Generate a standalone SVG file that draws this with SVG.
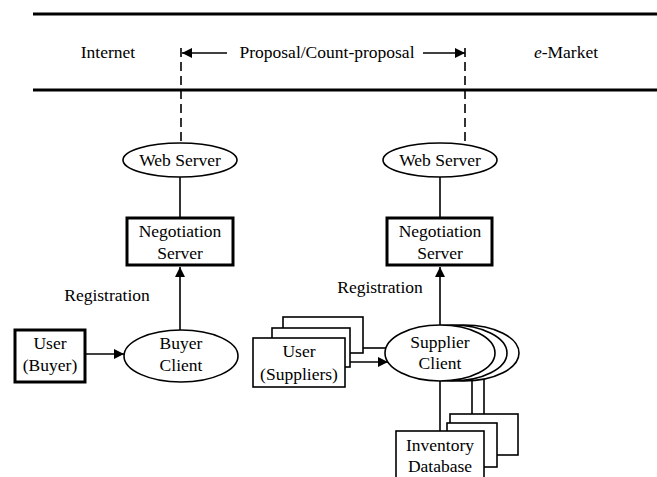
<svg xmlns="http://www.w3.org/2000/svg" width="657" height="477" viewBox="0 0 657 477">
<defs>
<marker id="ah" viewBox="0 0 10 10" refX="10" refY="5" markerWidth="10" markerHeight="10" markerUnits="userSpaceOnUse" orient="auto">
<path d="M0,0 L10,5 L0,10 z" fill="#000"/>
</marker>
<style>
text{font-family:"Liberation Serif","Times New Roman",serif;font-size:17.5px;fill:#000;text-anchor:middle}
.ln{stroke:#000;stroke-width:1.6;fill:none}
.dash{stroke:#000;stroke-width:1.6;fill:none;stroke-dasharray:9,5}
.thick{stroke:#000;stroke-width:3;fill:#fff}
.box{stroke:#000;stroke-width:1.6;fill:#fff}
</style>
</defs>
<rect width="657" height="477" fill="#fff"/>
<g id="header">
<line x1="33" y1="14" x2="657" y2="14" stroke="#000" stroke-width="3"/>
<line x1="33" y1="90" x2="657" y2="90" stroke="#000" stroke-width="3"/>
<text x="108" y="58">Internet</text>
<text x="327" y="58">Proposal/Count-proposal</text>
<text x="566" y="58"><tspan font-style="italic">e</tspan>-Market</text>
</g>
<g id="connectors">
<line class="ln" x1="227" y1="53" x2="182" y2="53" marker-end="url(#ah)"/>
<line class="ln" x1="423" y1="53" x2="465" y2="53" marker-end="url(#ah)"/>
<line class="dash" x1="181" y1="48" x2="181" y2="143"/>
<line class="dash" x1="465" y1="48" x2="465" y2="146"/>
<line class="ln" x1="180" y1="177" x2="180" y2="218"/>
<line class="ln" x1="440" y1="177" x2="440" y2="218"/>
<line class="ln" x1="180" y1="330" x2="180" y2="267" marker-end="url(#ah)"/>
<line class="ln" x1="440" y1="325" x2="440" y2="267" marker-end="url(#ah)"/>
<line class="ln" x1="85" y1="354" x2="124" y2="354" marker-end="url(#ah)"/>
<line class="ln" x1="363" y1="348" x2="386" y2="348"/>
<line class="ln" x1="345" y1="362" x2="388" y2="362" marker-end="url(#ah)"/>
<line class="ln" x1="440" y1="381" x2="440" y2="431"/>
<line class="ln" x1="472" y1="380" x2="472" y2="423"/>
<line class="ln" x1="484" y1="379" x2="484" y2="414"/>
<text x="107" y="301">Registration</text>
<text x="380" y="293">Registration</text>
</g>
<g id="web-server-left">
<ellipse class="box" cx="180" cy="160" rx="57" ry="17"/>
<text x="180" y="166">Web Server</text>
</g>
<g id="web-server-right">
<ellipse class="box" cx="440" cy="160" rx="57" ry="17"/>
<text x="440" y="166">Web Server</text>
</g>
<g id="negotiation-server-left">
<rect class="thick" x="127" y="218" width="106" height="47"/>
<text x="180" y="237">Negotiation</text>
<text x="180" y="259">Server</text>
</g>
<g id="negotiation-server-right">
<rect class="thick" x="387" y="218" width="105" height="47"/>
<text x="440" y="237">Negotiation</text>
<text x="440" y="259">Server</text>
</g>
<g id="user-buyer">
<rect class="thick" x="15" y="330" width="70" height="52"/>
<text x="50" y="349">User</text>
<text x="50" y="371">(Buyer)</text>
</g>
<g id="buyer-client">
<ellipse class="box" cx="181" cy="356" rx="57" ry="26"/>
<text x="181" y="349">Buyer</text>
<text x="181" y="371">Client</text>
</g>
<g id="user-suppliers">
<rect class="box" x="283" y="317" width="80" height="36"/>
<rect class="box" x="272" y="328" width="78" height="39"/>
<rect class="box" x="253" y="338" width="92" height="49"/>
<text x="299" y="357">User</text>
<text x="299" y="380">(Suppliers)</text>
</g>
<g id="supplier-client">
<ellipse class="box" cx="464" cy="353" rx="55" ry="28"/>
<ellipse class="box" cx="452" cy="353" rx="55" ry="28"/>
<ellipse class="box" cx="440" cy="353" rx="55" ry="28"/>
<text x="440" y="348">Supplier</text>
<text x="440" y="369">Client</text>
</g>
<g id="inventory-database">
<rect class="box" x="450" y="414" width="68" height="41"/>
<rect class="box" x="447" y="423" width="50" height="44"/>
<rect class="box" x="396" y="431" width="88" height="50"/>
<text x="440" y="451">Inventory</text>
<text x="440" y="472">Database</text>
</g>
</svg>
